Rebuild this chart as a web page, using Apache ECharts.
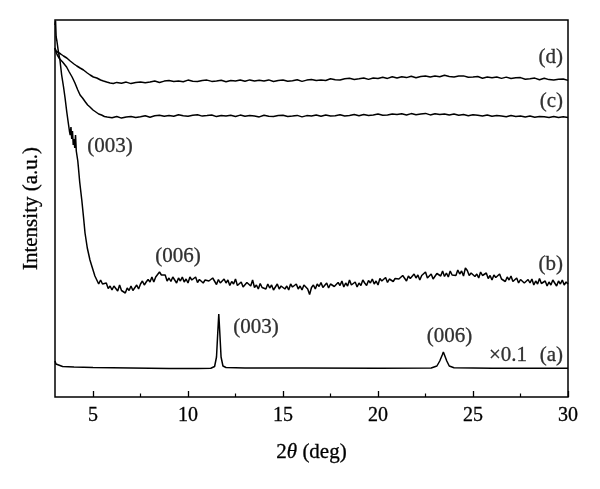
<!DOCTYPE html>
<html>
<head>
<meta charset="utf-8">
<script src="https://cdn.jsdelivr.net/npm/echarts@6/dist/echarts.min.js"></script>
<style>
html,body{margin:0;padding:0;background:#fff;}
#chart{width:600px;height:489px;}
</style>
</head>
<body>
<div id="chart"></div>
<script>
// 2theta (deg) / intensity (a.u.) pairs
var seriesA = [[3.0,36],[3.05,33],[3.15,31.5],[3.4,30.5],[4,30],[5,29.5],[7,29],[9,28.5],[10.5,28.5],[11.2,28.8],[11.4,30.5],[11.5,40],[11.56,62],[11.62,83],[11.68,62],[11.74,40],[11.84,31],[12,29.5],[13,29],[16,29],[20,28.8],[22.8,29],[23.1,31],[23.25,36],[23.38,42],[23.44,45],[23.5,43],[23.62,36],[23.75,31],[24,29.2],[26,28.8],[30,28.8]];

var seriesB = [[3.00,372],[3.03,376],[3.06,360],[3.10,356],[3.18,345],[3.26,337],[3.35,322],[3.45,310],[3.53,299],[3.62,285],[3.70,274],[3.76,266],[3.80,262],[3.84,270],[3.88,258],[3.92,266],[3.96,252],[4.00,258],[4.04,249],[4.08,262],[4.12,246],[4.16,247],[4.20,236],[4.23,230],[4.30,215],[4.41,197],[4.50,180],[4.58,164],[4.70,149],[4.84,137],[4.92,132],
[5.0,130],[5.1,121],[5.2,120],[5.3,113],[5.4,117],[5.5,113],[5.6,111],[5.7,114],[5.8,108.5],[5.9,111],
[6.0,107],[6.1,111],[6.2,108.5],[6.3,106],[6.4,112],[6.5,106.5],[6.6,108],[6.7,104],[6.8,109],[6.9,106.5],
[7.0,111],[7.1,106.5],[7.2,108],[7.3,112],[7.4,108],[7.5,113],[7.6,116],[7.7,112],[7.8,115],[7.9,117.5],
[8.0,115],[8.1,120],[8.2,115],[8.3,120],[8.4,118],[8.5,125],[8.6,122],[8.7,122],[8.8,122],[8.9,116],
[9.0,119],[9.1,115.5],[9.2,120],[9.3,117],[9.4,114],[9.5,119],[9.6,116],[9.7,120],[9.8,115],[9.9,118],
[10.0,114],[10.1,120],[10.2,117],[10.3,116],[10.4,120],[10.5,114.5],[10.6,117.5],[10.7,118],[10.8,114],[10.9,117],
[11.0,118],[11.1,116],[11.2,114],[11.3,119],[11.4,117],[11.5,112.5],[11.6,117.5],[11.7,114],[11.8,113],[11.9,118],
[12.0,114],[12.1,117],[12.2,111.5],[12.3,115.5],[12.4,113],[12.5,118],[12.6,111.5],[12.7,113.5],[12.8,115],[12.9,110],
[13.0,110],[13.1,114.5],[13.2,112.5],[13.3,111],[13.4,117],[13.5,109.5],[13.6,112],[13.7,108],[13.8,113.5],[13.9,109.5],
[14.0,111],[14.1,108],[14.2,113],[14.3,109],[14.4,112],[14.5,107],[14.6,110],[14.7,113],[14.8,108],[14.9,111],
[15.0,112],[15.1,108],[15.2,111],[15.3,107],[15.4,113],[15.5,110],[15.6,109],[15.7,113],[15.8,108],[15.9,111],
[16.0,107],[16.1,112],[16.2,110],[16.3,108],[16.4,102.5],[16.5,109.5],[16.6,112],[16.7,108],[16.8,113],[16.9,110.5],
[17.0,114.5],[17.1,109.5],[17.2,111],[17.3,114],[17.4,109],[17.5,113],[17.6,115],[17.7,110.5],[17.8,112.5],[17.9,114.5],
[18.0,111.5],[18.1,116],[18.2,110],[18.3,114],[18.4,111],[18.5,117],[18.6,112],[18.7,113],[18.8,115],[18.9,110],
[19.0,114],[19.1,111.5],[19.2,117],[19.3,114],[19.4,111.5],[19.5,116.5],[19.6,114],[19.7,118],[19.8,113],[19.9,116],
[20.0,112],[20.1,118.5],[20.2,116],[20.3,115],[20.4,119.5],[20.5,114.5],[20.6,118],[20.7,119],[20.8,115.5],[20.9,118.5],
[21.0,120],[21.1,118],[21.2,116.5],[21.3,121.5],[21.4,120],[21.5,116],[21.6,121],[21.7,118.5],[21.8,117.5],[21.9,123],
[22.0,119],[22.1,122],[22.2,117],[22.3,121.5],[22.4,119.5],[22.5,125],[22.6,119],[22.7,121],[22.8,123],[22.9,118],
[23.0,118],[23.1,123.5],[23.2,122],[23.3,121],[23.4,126],[23.5,120.5],[23.6,124],[23.7,120],[23.8,126],[23.9,122],
[24.0,124],[24.1,121.5],[24.2,127],[24.3,123],[24.4,126],[24.5,121],[24.6,129],[24.7,126.5],[24.8,121.5],[24.9,124],
[25.0,125],[25.1,120.5],[25.2,123],[25.3,119],[25.4,125],[25.5,121.5],[25.6,120],[25.7,124],[25.8,118.5],[25.9,121.5],
[26.0,117],[26.1,122],[26.2,119.5],[26.3,117.5],[26.4,123],[26.5,118],[26.6,119.5],[26.7,115.5],[26.8,120],[26.9,117],
[27.0,121],[27.1,115.5],[27.2,116.5],[27.3,119],[27.4,114],[27.5,117.5],[27.6,119.5],[27.7,114],[27.8,116],[27.9,117.5],
[28.0,114],[28.1,118],[28.2,112],[28.3,116],[28.4,113],[28.5,118.5],[28.6,113.5],[28.7,114.5],[28.8,116],[28.9,111],
[29.0,115],[29.1,112],[29.2,117],[29.3,114],[29.4,111],[29.5,116],[29.6,113],[29.7,117],[29.8,112],[29.9,115],[30.0,113]];

var seriesC = [[3.0,349],[3.05,345],[3.12,342],[3.25,338],[3.4,335],[3.5,333],[3.61,330],[3.75,325],[3.9,320],[4.05,314],[4.2,307],[4.32,302],[4.45,299],[4.6,295],[4.72,292],[4.84,290],[5.0,287],[5.15,285],[5.3,283],[5.45,282],[5.6,280.5],[5.75,280],
[6.0,279.2],[6.25,280.5],[6.5,278.9],[6.75,280.0],[7.0,280.5],[7.25,279.5],[7.5,280.2],[7.75,281.3],[8.0,279.8],[8.25,281.2],[8.5,281.7],[8.75,280.8],[9.0,281.5],[9.25,280.7],[9.5,282.3],[9.75,281.2],
[10.0,280.8],[10.25,281.8],[10.5,282.2],[10.75,280.9],[11.0,281.4],[11.25,282.0],[11.5,280.4],[11.75,281.5],[12.0,280.9],[12.25,281.7],[12.5,280.5],[12.75,281.9],[13.0,280.7],[13.25,281.6],[13.5,281.0],[13.75,280.1],[14.0,281.8],[14.25,280.7],[14.5,280.4],[14.75,281.4],
[15.0,281.8],[15.25,280.5],[15.5,281.0],[15.75,281.6],[16.0,280.1],[16.25,281.4],[16.5,280.9],[16.75,281.9],[17.0,280.8],[17.25,282.0],[17.5,281.1],[17.75,281.2],[18.0,282.2],[18.25,281.0],[18.5,281.5],[18.75,282.4],[19.0,281.3],[19.25,282.5],[19.5,281.6],[19.75,282.1],
[20.0,282.9],[20.25,281.7],[20.5,282.1],[20.75,283.0],[21.0,282.4],[21.25,283.2],[21.5,282.0],[21.75,283.4],[22.0,282.3],[22.25,283.0],[22.5,283.6],[22.75,282.1],[23.0,283.3],[23.25,282.4],[23.5,283.1],[23.75,281.9],[24.0,282.9],[24.25,281.8],[24.5,282.4],[24.75,281.3],
[25.0,282.2],[25.25,281.8],[25.5,280.9],[25.75,281.9],[26.0,280.7],[26.25,281.5],[26.5,281.0],[26.75,280.3],[27.0,281.4],[27.25,280.5],[27.5,280.9],[27.75,280.0],[28.0,281.0],[28.25,279.8],[28.5,280.6],[28.75,280.2],[29.0,279.5],[29.25,280.6],[29.5,279.4],[29.75,280.2],[30.0,279.6]];

var seriesD = [[3.0,349],[3.05,346],[3.15,345],[3.3,343],[3.45,341],[3.62,339],[3.8,336],[4.0,333],[4.15,331],[4.32,329],[4.5,327],[4.7,324],[4.85,322],[5.02,320],[5.2,319],[5.4,317],[5.55,316],[5.72,315],[5.9,314],[6.07,313.5],
[6.25,314.6],[6.5,313.7],[6.75,314.9],[7.0,313.4],[7.25,314.6],[7.5,315.1],[7.75,314.2],[8.0,314.9],[8.25,316.0],[8.5,314.5],[8.75,315.9],[9.0,316.5],[9.25,315.6],[9.5,316.1],[9.75,315.3],
[10.0,316.9],[10.25,315.8],[10.5,315.5],[10.75,316.5],[11.0,316.9],[11.25,315.6],[11.5,316.1],[11.75,316.7],[12.0,315.3],[12.25,316.5],[12.5,316.0],[12.75,317.0],[13.0,315.7],[13.25,317.1],[13.5,315.9],[13.75,316.8],[14.0,315.9],[14.25,317.1],[14.5,315.5],[14.75,316.5],
[15.0,316.9],[15.25,315.7],[15.5,316.2],[15.75,317.2],[16.0,315.6],[16.25,316.9],[16.5,317.5],[16.75,316.5],[17.0,317.1],[17.25,316.5],[17.5,318.2],[17.75,317.3],[18.0,317.0],[18.25,318.2],[18.5,318.7],[18.75,317.6],[19.0,318.2],[19.25,319.0],[19.5,317.6],[19.75,319.0],
[20.0,318.6],[20.25,319.7],[20.5,318.6],[20.75,320.2],[21.0,319.1],[21.25,320.2],[21.5,319.4],[21.75,320.8],[22.0,319.2],[22.25,320.4],[22.5,320.9],[22.75,320.0],[23.0,320.9],[23.25,320.3],[23.5,321.8],[23.75,320.6],[24.0,320.0],[24.25,320.9],[24.5,321.1],[24.75,319.7],
[25.0,320.0],[25.25,320.5],[25.5,318.8],[25.75,319.9],[26.0,319.2],[26.25,320.0],[26.5,318.6],[26.75,319.9],[27.0,318.5],[27.25,319.3],[27.5,319.4],[27.75,317.8],[28.0,318.3],[28.25,318.9],[28.5,317.2],[28.75,318.7],[29.0,317.4],[29.25,317.0],[29.5,317.7],[29.75,318.0],[30.0,316.6]];

var majorTicks = [5, 10, 15, 20, 25, 30];
var minorTicks = [7.5, 12.5, 17.5, 22.5, 27.5];

// annotation texts and their anchor points in data space
var annotationTexts = ['(d)', '(c)', '(b)', '(a)', '\u00d70.1', '(006)', '(003)', '(006)', '(003)'];
var annotationAnchors = [[29.74,339.5],[29.74,296],[29.74,133],[29.74,42],[26.84,42],[23.76,61],[13.58,70],[9.47,141],[5.89,251]];
var annotationAlign = ['right','right','right','right','center','center','center','center','center'];

var FONT = 'Liberation Serif';
var chart = echarts.init(document.getElementById('chart'), null, {renderer: 'canvas'});

function lineSeries(name, data) {
  return {
    name: name, type: 'line', data: data, showSymbol: false, symbol: 'none',
    lineStyle: {color: '#000', width: 1.5}, silent: true, animation: false, z: 3
  };
}

var annData = annotationTexts.map(function (t, i) {
  return {value: annotationAnchors[i], name: t, label: {align: annotationAlign[i]}};
});

var txt = {color: '#000', fontFamily: FONT, textBorderColor: '#000', textBorderWidth: 0.3};

chart.setOption({
  animation: false,
  backgroundColor: '#fff',
  grid: {left: 55, right: 32, top: 20, bottom: 92, show: true, borderColor: '#000', borderWidth: 1.5, backgroundColor: 'transparent'},
  xAxis: [{
    type: 'value', min: 3, max: 30,
    axisLine: {show: false},
    splitLine: {show: false},
    axisTick: {show: true, inside: true, length: 6, customValues: majorTicks, lineStyle: {color: '#000', width: 1.3}},
    axisLabel: Object.assign({show: true, customValues: majorTicks, margin: 9, fontSize: 20}, txt),
    name: '{n|2}{i|\u03b8}{n| (deg)}',
    nameLocation: 'middle', nameGap: 45,
    nameTextStyle: {rich: {
      n: Object.assign({fontSize: 21}, txt),
      i: Object.assign({fontSize: 21, fontStyle: 'italic'}, txt)
    }}
  }, {
    type: 'value', min: 3, max: 30, position: 'bottom',
    axisLine: {show: false}, splitLine: {show: false},
    axisTick: {show: true, inside: true, length: 3.5, customValues: minorTicks, lineStyle: {color: '#000', width: 1.2}},
    axisLabel: {show: false}
  }],
  yAxis: {
    type: 'value', min: 0, max: 377,
    axisLine: {show: false}, axisTick: {show: false}, axisLabel: {show: false}, splitLine: {show: false},
    name: 'Intensity (a.u.)', nameLocation: 'middle', nameGap: 13,
    nameTextStyle: Object.assign({fontSize: 21}, txt)
  },
  series: [
    lineSeries('(a)', seriesA),
    lineSeries('(b)', seriesB),
    lineSeries('(c)', seriesC),
    lineSeries('(d)', seriesD),
    {
      name: 'annotations', type: 'scatter', symbolSize: 0, data: annData, silent: true, z: 5,
      label: Object.assign({show: true, position: 'inside', formatter: '{b}', fontSize: 21, verticalAlign: 'middle'}, txt)
    }
  ]
});
</script>
</body>
</html>
